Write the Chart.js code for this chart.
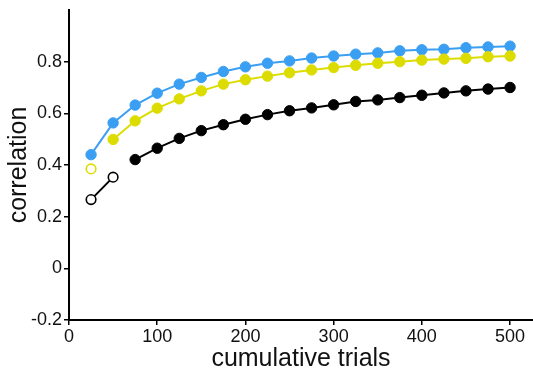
<!DOCTYPE html>
<html>
<head>
<meta charset="utf-8">
<script src="https://cdn.jsdelivr.net/npm/chart.js@4"></script>
<style>
  body { margin: 0; background: #fff; }
  #chart { display: block; }
</style>
</head>
<body>
<canvas id="chart" width="533" height="372"></canvas>
<script>
// Data
const trials = [25, 50, 75, 100, 125, 150, 175, 200, 225, 250, 275, 300, 325, 350, 375, 400, 425, 450, 475, 500];
const blueVals = [0.44, 0.563, 0.632, 0.678, 0.713, 0.739, 0.762, 0.78, 0.794, 0.803, 0.814, 0.822, 0.829, 0.834, 0.842, 0.846, 0.848, 0.854, 0.857, 0.86];
const yellowVals = [0.385, 0.499, 0.571, 0.62, 0.656, 0.687, 0.713, 0.73, 0.744, 0.757, 0.768, 0.777, 0.786, 0.794, 0.8, 0.806, 0.81, 0.813, 0.819, 0.822];
const blackVals = [0.266, 0.353, 0.421, 0.465, 0.503, 0.533, 0.556, 0.577, 0.595, 0.61, 0.621, 0.633, 0.646, 0.652, 0.661, 0.67, 0.679, 0.687, 0.694, 0.70];
// number of leading points drawn as open circles
const yellowOpen = 1;
const blackOpen = 2;
const xTicks = [0, 100, 200, 300, 400, 500];
const yTicks = [-0.2, 0, 0.2, 0.4, 0.6, 0.8];

const BLUE = '#3a9ff2';
const YELLOW = '#dcdc00';
const BLACK = '#000000';

function pts(vals, from, to) {
  return vals.slice(from, to).map((v, i) => ({ x: trials[from + i], y: v }));
}

function series(data, color, open) {
  return {
    data: data,
    borderColor: color,
    backgroundColor: open ? '#ffffff' : color,
    pointBackgroundColor: open ? '#ffffff' : color,
    pointBorderColor: color,
    pointBorderWidth: open ? 1.6 : 1,
    pointRadius: open ? 4.8 : 5.2,
    borderWidth: 2,
    showLine: !open || data.length > 1,
    tension: 0
  };
}

const fontFamily = '"Liberation Sans", Arial, sans-serif';

new Chart(document.getElementById('chart'), {
  type: 'scatter',
  data: {
    datasets: [
      series(pts(blackVals, 0, blackOpen), BLACK, true),
      series(pts(blackVals, blackOpen), BLACK, false),
      series(pts(yellowVals, 0, yellowOpen), YELLOW, true),
      series(pts(yellowVals, yellowOpen), YELLOW, false),
      series(pts(blueVals, 0), BLUE, false)
    ]
  },
  options: {
    responsive: false,
    animation: false,
    layout: { autoPadding: false, padding: { top: 10, left: 0, right: 0, bottom: 0 } },
    plugins: {
      legend: { display: false },
      tooltip: { enabled: false }
    },
    scales: {
      x: {
        type: 'linear',
        min: 0,
        max: 526,
        afterBuildTicks: s => { s.ticks = xTicks.map(v => ({ value: v })); },
        afterFit: s => { s.height = 52; s.paddingLeft = 0; s.paddingRight = 0; },
        border: { display: true, color: BLACK, width: 2 },
        grid: { drawOnChartArea: false, drawTicks: true, tickLength: 5, tickColor: BLACK, lineWidth: 1.5 },
        ticks: { color: '#111', padding: 1, maxRotation: 0, font: { family: fontFamily, size: 18 } },
        title: {
          display: true,
          text: 'cumulative trials',
          color: '#111',
          font: { family: fontFamily, size: 25, lineHeight: 1 },
          padding: { top: 0, bottom: 0.5 }
        }
      },
      y: {
        type: 'linear',
        min: -0.2,
        max: 1.0,
        afterBuildTicks: s => { s.ticks = yTicks.map(v => ({ value: v })); },
        afterFit: s => { s.width = 69; s.paddingTop = 0; s.paddingBottom = 0; },
        border: { display: true, color: BLACK, width: 2 },
        grid: { drawOnChartArea: false, drawTicks: true, tickLength: 5, tickColor: BLACK, lineWidth: 1.5 },
        ticks: {
          color: '#111',
          padding: 2,
          font: { family: fontFamily, size: 18 },
          callback: v => (Math.abs(v) < 1e-9 ? '0' : String(Math.round(v * 10) / 10))
        },
        title: {
          display: true,
          text: 'correlation',
          color: '#111',
          font: { family: fontFamily, size: 25, lineHeight: 1 },
          padding: { top: 7, bottom: 0 }
        }
      }
    }
  }
});
</script>
</body>
</html>
